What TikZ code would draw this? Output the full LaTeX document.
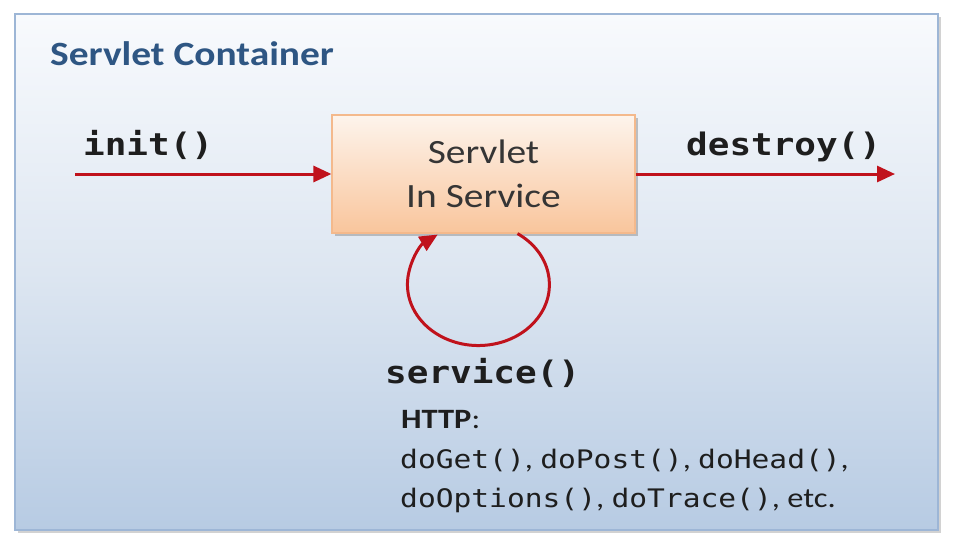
\documentclass[tikz,border=0pt]{standalone}
\usepackage{fontspec}
\setmainfont{Carlito}
\newfontfamily\monof{DejaVu Sans Mono}
\usetikzlibrary{shadows,arrows.meta}
\definecolor{cTop}{HTML}{F8FAFD}
\definecolor{cMid}{HTML}{DDE6F1}
\definecolor{cBot}{HTML}{B7CBE3}
\definecolor{cBorder}{HTML}{9DB6D6}
\definecolor{bTop}{HTML}{FDF4EC}
\definecolor{bBot}{HTML}{F9C59C}
\definecolor{bBorder}{HTML}{F4B98C}
\definecolor{arrowred}{HTML}{C0121C}
\definecolor{titleblue}{HTML}{2E5683}
\definecolor{txtdark}{HTML}{1E1E1E}
\newcommand{\hs}[1]{\scalebox{1.16}[1]{#1}}
\newcommand{\cd}[1]{{\monof\fontsize{25.5}{30}\selectfont #1}}
\tikzset{
  container/.style={draw=cBorder, line width=2pt, top color=cTop, bottom color=cBot, middle color=cMid,
    minimum width=923pt, minimum height=516pt, inner sep=0pt,
    drop shadow={shadow xshift=3pt, shadow yshift=-3pt, fill=black!35, opacity=.5}},
  servbox/.style={draw=bBorder, line width=1.2pt, top color=bTop, bottom color=bBot,
    minimum width=303pt, minimum height=118pt, inner sep=0pt, align=center,
    text=txtdark!90, font=\fontsize{34}{44}\selectfont,
    drop shadow={shadow xshift=3pt, shadow yshift=-3pt, fill=black!45, opacity=.5}},
  flow/.style={draw=arrowred, line width=3pt, -{Triangle[length=18pt,width=16pt]}},
  codelbl/.style={anchor=base west, inner sep=0pt, text=txtdark, font=\monof\bfseries\fontsize{31}{36}\selectfont},
  plainlbl/.style={anchor=base west, inner sep=0pt, text=txtdark, font=\fontsize{28}{32}\selectfont},
}
\begin{document}
\begin{tikzpicture}[x=1pt,y=-1pt]
\useasboundingbox (0,0) rectangle (960,552);
\fill[white] (0,0) rectangle (960,552);
\node[container] (cont) at (476.5,272) {};
\node[anchor=base west, inner sep=0pt, text=titleblue, font=\bfseries\fontsize{34}{40}\selectfont] (title) at (50,65) {\hs{Servlet Container}};
\node[servbox] (box) at (483.5,174) {\hs{Servlet}\\\hs{In Service}};
\coordinate (initstart) at (75,174);
\coordinate (destroyend) at (895,174);
\draw[flow] (initstart) -- (box.west);
\draw[flow] (box.east) -- (destroyend);
\draw[flow] ([xshift=34pt]box.south) arc[start angle=56.6, end angle=-235, x radius=71pt, y radius=61pt];
\node[codelbl] (init) at (83,155) {\hs{init()}};
\node[codelbl] (destroy) at (686,155) {\hs{destroy()}};
\node[codelbl] (service) at (385,383) {\hs{service()}};
\node[plainlbl] (http) at (401,428) {\hs{\textbf{HTTP}:}};
\node[plainlbl] (l1) at (400,468) {\hs{\cd{doGet()}, \cd{doPost()}, \cd{doHead()},}};
\node[plainlbl] (l2) at (400,507) {\hs{\cd{doOptions()}, \cd{doTrace()}, etc.}};
\end{tikzpicture}
\end{document}
